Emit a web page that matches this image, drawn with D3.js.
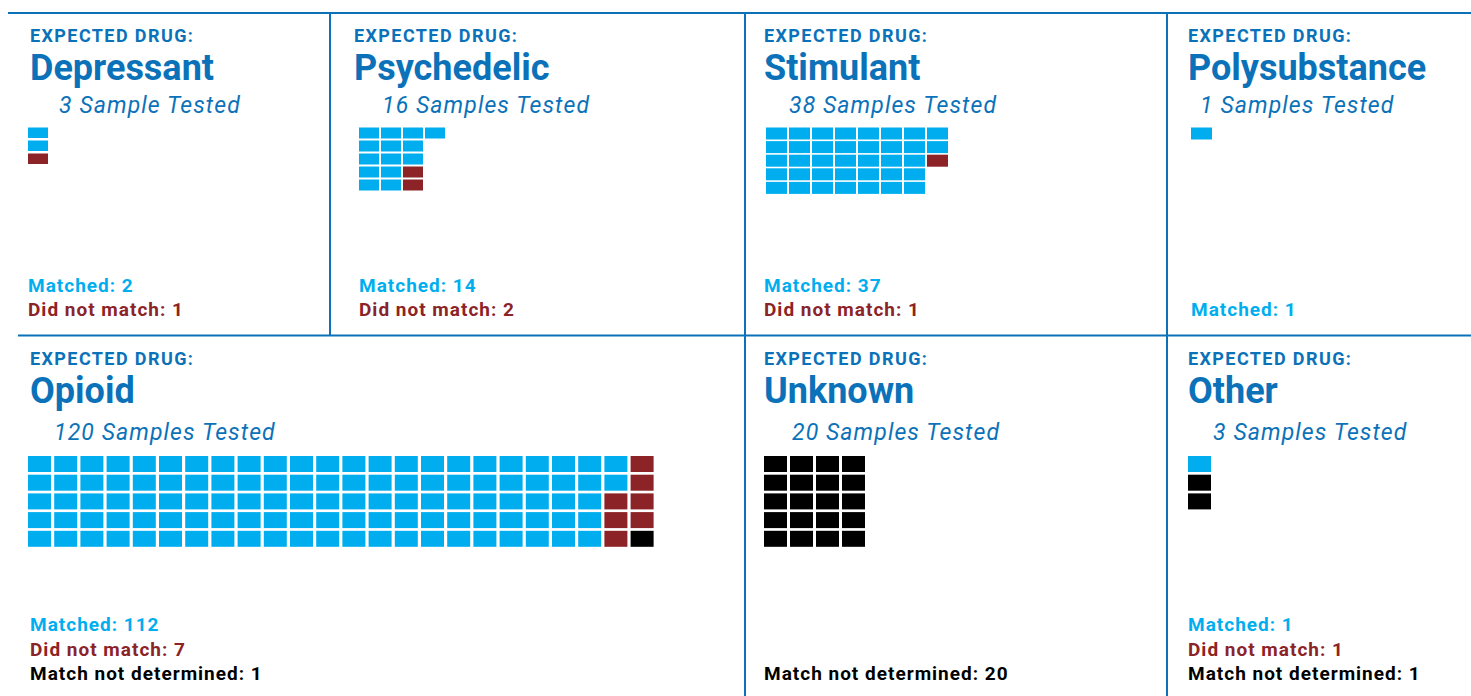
<!DOCTYPE html>
<html>
<head>
<meta charset="utf-8">
<script src="https://cdn.jsdelivr.net/npm/d3@7"></script>
<style>
  body { margin: 0; background: #fff; }
  svg { display: block; }
  text { font-family: Roboto, "Noto Sans", sans-serif; }
</style>
</head>
<body>
<svg id="chart" width="1471" height="696"></svg>
<script>
// values
var drugs = ['Depressant', 'Psychedelic', 'Stimulant', 'Polysubstance', 'Opioid', 'Unknown', 'Other'];
var testedLabels = ['3 Sample Tested', '16 Samples Tested', '38 Samples Tested', '1 Samples Tested',
  '120 Samples Tested', '20 Samples Tested', '3 Samples Tested'];
var matched = [2, 14, 37, 1, 112, 0, 1];
var notMatched = [1, 2, 1, 0, 7, 0, 1];
var notDetermined = [0, 0, 0, 0, 1, 20, 1];
// cell order as drawn, column by column (M matched, N did not match, X not determined)
var cellCodes = [
  'MMN',
  'MMMMM' + 'MMMMM' + 'MMMNN' + 'M',
  'M'.repeat(37) + 'N',
  'M',
  'M'.repeat(112) + 'N'.repeat(7) + 'X',
  'X'.repeat(20),
  'MXX'
];

var BLUE_DARK = '#0b72b9';
var colors = {M: '#00aeef', N: '#8b2327', X: '#000000'};
var labelNames = {M: 'Matched: ', N: 'Did not match: ', X: 'Match not determined: '};

// panel placement
var layout = [
  {x: 30, lx: 28, row: 0, indent: 29, cx: 28, cw: 20, ch: 10.5, px: 22, py: 13},
  {x: 354, lx: 359, row: 0, indent: 28, cx: 359, cw: 20, ch: 11, px: 22, py: 13},
  {x: 764, lx: 764, row: 0, indent: 25, cx: 766, cw: 21, ch: 12, px: 23, py: 13.6},
  {x: 1188, lx: 1191, row: 0, indent: 12, cx: 1191, cw: 21, ch: 12, px: 23, py: 13.6},
  {x: 30, lx: 30, row: 1, indent: 24, cx: 28, cw: 23, ch: 16, px: 26.2, py: 18.7},
  {x: 764, lx: 764, row: 1, indent: 28, cx: 764, cw: 23, ch: 16, px: 26, py: 18.7},
  {x: 1188, lx: 1188, row: 1, indent: 25, cx: 1188, cw: 23, ch: 16, px: 26, py: 18.7}
];
var rows = [
  {header: 41.5, title: 80, tested: 112.5, cells: 127.5, last: 316},
  {header: 365, title: 403, tested: 440, cells: 456, last: 680}
];

var svg = d3.select('#chart');

// frame lines
var frame = svg.append('g').attr('stroke', BLUE_DARK).attr('stroke-width', 2);
frame.append('line').attr('x1', 8).attr('x2', 1471).attr('y1', 13).attr('y2', 13);
frame.append('line').attr('x1', 18).attr('x2', 1471).attr('y1', 335.5).attr('y2', 335.5);
frame.append('line').attr('x1', 330).attr('x2', 330).attr('y1', 13).attr('y2', 335.5);
frame.append('line').attr('x1', 745).attr('x2', 745).attr('y1', 13).attr('y2', 696);
frame.append('line').attr('x1', 1167).attr('x2', 1167).attr('y1', 13).attr('y2', 696);

drugs.forEach(function(drug, i) {
  var L = layout[i];
  var R = rows[L.row];
  var g = svg.append('g');

  g.append('text')
      .attr('x', L.x).attr('y', R.header)
      .attr('fill', BLUE_DARK)
      .attr('font-size', 18).attr('font-weight', 700)
      .attr('letter-spacing', 1.4)
      .text('EXPECTED DRUG:');

  g.append('text')
      .attr('x', L.x).attr('y', R.title)
      .attr('fill', BLUE_DARK)
      .attr('font-size', 36).attr('font-weight', 700)
      .text(drug);

  g.append('text')
      .attr('x', L.x + L.indent).attr('y', R.tested)
      .attr('fill', BLUE_DARK)
      .attr('font-size', 23).attr('font-style', 'italic').attr('font-weight', 400)
      .attr('letter-spacing', 1.1)
      .text(testedLabels[i]);

  // waffle cells, 5 per column
  var cells = cellCodes[i].split('').map(function(c, k) {
    return {code: c, col: Math.floor(k / 5), row: k % 5};
  });
  var xs = d3.scaleLinear().domain([0, 1]).range([L.cx, L.cx + L.px]);
  var ys = d3.scaleLinear().domain([0, 1]).range([R.cells, R.cells + L.py]);
  g.selectAll('rect.cell')
      .data(cells)
      .join('rect')
      .attr('class', 'cell')
      .attr('x', function(d) { return xs(d.col); })
      .attr('y', function(d) { return ys(d.row); })
      .attr('width', L.cw)
      .attr('height', L.ch)
      .attr('fill', function(d) { return colors[d.code]; });

  // counts, stacked up from the bottom
  var counts = [['M', matched[i]], ['N', notMatched[i]], ['X', notDetermined[i]]]
      .filter(function(d) { return d[1] > 0; });
  var lineH = 24.5;
  g.selectAll('text.count')
      .data(counts)
      .join('text')
      .attr('class', 'count')
      .attr('x', L.lx)
      .attr('y', function(d, k) { return R.last - (counts.length - 1 - k) * lineH; })
      .attr('fill', function(d) { return colors[d[0]]; })
      .attr('font-size', 19).attr('font-weight', 700)
      .attr('letter-spacing', 1)
      .text(function(d) { return labelNames[d[0]] + d[1]; });
});
</script>
</body>
</html>
